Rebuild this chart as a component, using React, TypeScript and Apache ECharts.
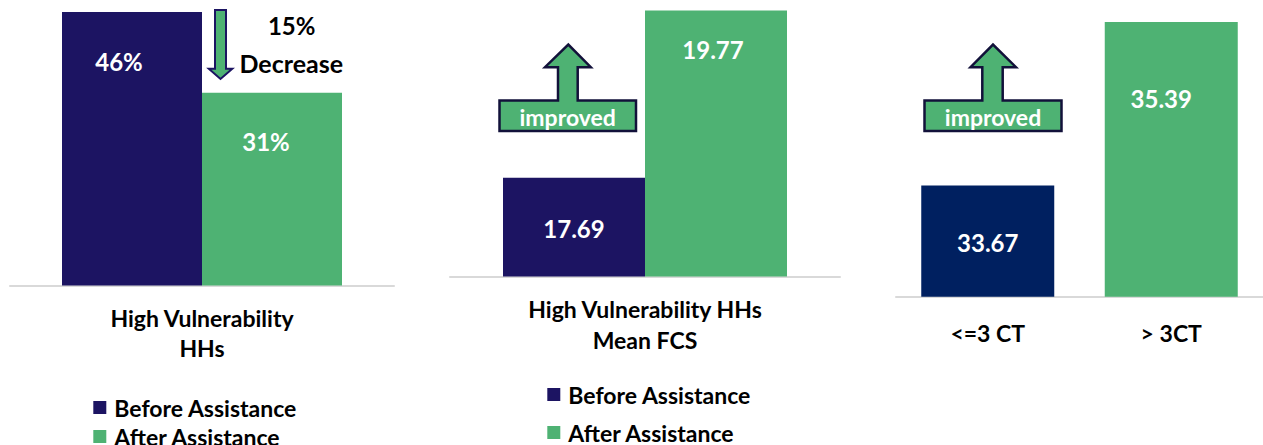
import React, { useEffect, useRef } from "react";
import * as echarts from "echarts";

const legendNames = ["Before Assistance", "After Assistance"];
const categories1 = ["High Vulnerability\nHHs"];
const before1 = [46];
const after1 = [31];
const categories2 = ["High Vulnerability HHs\nMean FCS"];
const before2 = [17.69];
const after2 = [19.77];
const categories3 = ["<=3 CT", "> 3CT"];
const values3 = [33.67, 35.39];

const NAVY = "#1C1462";
const NAVY3 = "#002060";
const GREEN = "#4EB273";
const FONT = "Lato";

const labelStyle = (dy: number, dx: number) => ({
  show: true,
  position: ["50%", dy],
  offset: [dx, 0],
  align: "center",
  verticalAlign: "middle",
  color: "#fff",
  fontFamily: FONT,
  fontWeight: "bold",
  fontSize: 24,
});

const catAxis = (gridIndex: number, data: string[], margin: number, lh: number) => ({
  type: "category",
  gridIndex,
  data,
  axisLine: { show: true, lineStyle: { color: "#D9D9D9", width: 2 } },
  axisTick: { show: false },
  axisLabel: {
    interval: 0,
    margin,
    color: "#000",
    fontFamily: FONT,
    fontWeight: "bold",
    fontSize: 23,
    lineHeight: lh,
  },
});

const valAxis = (gridIndex: number, min: number, max: number) => ({
  type: "value",
  gridIndex,
  min,
  max,
  show: false,
  splitLine: { show: false },
});

const legendItem = (name: string, left: number, top: number) => ({
  orient: "vertical",
  left,
  top,
  padding: 0,
  itemWidth: 13,
  itemHeight: 13,
  icon: "rect",
  data: [name],
  selectedMode: false,
  textStyle: {
    color: "#000",
    fontFamily: FONT,
    fontWeight: "bold",
    fontSize: 23,
    lineHeight: 24,
    padding: [0, 0, 0, 3],
  },
});

const improvedArrow = (L: number, R: number, T: number, B: number, sL: number, sR: number, hL: number, hR: number, hb: number, tx: number, ty: number) => ({
  type: "polygon",
  z: 100,
  shape: {
    points: [
      [L, B], [L, T], [sL, T], [sL, hb], [hL, hb], [tx, ty], [hR, hb], [sR, hb], [sR, T], [R, T], [R, B],
    ],
  },
  style: { fill: GREEN, stroke: "#12113A", lineWidth: 2.5 },
});

export default function App() {
  const ref = useRef<HTMLDivElement>(null);
  useEffect(() => {
    document.body.style.margin = "0";
    if (!ref.current) return;
    const chart = echarts.init(ref.current, undefined, { renderer: "svg" });
    chart.setOption({
      animation: false,
      grid: [
        { left: 10, top: 12, width: 384, height: 273.5 },
        { left: 450, top: 0, width: 390, height: 276.5 },
        { left: 896, top: 2, width: 371, height: 294.7 },
      ],
      xAxis: [
        catAxis(0, categories1, 17.8, 30),
        catAxis(1, categories2, 17.5, 30.7),
        catAxis(2, categories3, 21.3, 30),
      ],
      yAxis: [valAxis(0, 0, 44), valAxis(1, 16.46, 19.9), valAxis(2, 32.5, 35.6)],
      legend: [
        legendItem(legendNames[0], 93.3, 395.5),
        legendItem(legendNames[1], 93.3, 424.5),
        legendItem(legendNames[0], 547.3, 382.5),
        legendItem(legendNames[1], 547.3, 420.5),
      ],
      series: [
        {
          name: legendNames[0],
          type: "bar",
          xAxisIndex: 0,
          yAxisIndex: 0,
          barWidth: 140,
          barGap: "0%",
          clip: true,
          itemStyle: { color: NAVY },
          label: { ...labelStyle(49.7, -13), formatter: "{c}%" },
          data: before1,
        },
        {
          name: legendNames[1],
          type: "bar",
          xAxisIndex: 0,
          yAxisIndex: 0,
          barWidth: 140,
          barGap: "0%",
          itemStyle: { color: GREEN },
          label: { ...labelStyle(49, -6), formatter: "{c}%" },
          data: after1,
        },
        {
          name: legendNames[0],
          type: "bar",
          xAxisIndex: 1,
          yAxisIndex: 1,
          barWidth: 142,
          barGap: "0%",
          itemStyle: { color: NAVY },
          label: labelStyle(51, 0),
          data: before2,
        },
        {
          name: legendNames[1],
          type: "bar",
          xAxisIndex: 1,
          yAxisIndex: 1,
          barWidth: 142,
          barGap: "0%",
          itemStyle: { color: GREEN },
          label: labelStyle(38.8, -3),
          data: after2,
        },
        {
          name: "CT",
          type: "bar",
          xAxisIndex: 2,
          yAxisIndex: 2,
          barWidth: 133,
          data: values3.map((v, i) => ({
            value: v,
            itemStyle: { color: i === 0 ? NAVY3 : GREEN },
            label: i === 0 ? labelStyle(57.5, 0) : labelStyle(77, -10),
          })),
        },
      ],
      graphic: [
        {
          type: "polygon",
          z: 100,
          shape: {
            points: [
              [215, 10], [215, 68.8], [208.8, 68.8], [220.5, 79], [232.3, 68.8], [226, 68.8], [226, 10],
            ],
          },
          style: { fill: GREEN, stroke: NAVY, lineWidth: 2 },
        },
        {
          type: "text",
          z: 100,
          x: 291.7,
          y: 25.7,
          style: { text: "15%", fill: "#000", font: `bold 24px ${FONT}`, textAlign: "center", textVerticalAlign: "middle" },
        },
        {
          type: "text",
          z: 100,
          x: 291.3,
          y: 63.3,
          style: { text: "Decrease", fill: "#000", font: `bold 25px ${FONT}`, textAlign: "center", textVerticalAlign: "middle" },
        },
        improvedArrow(499.5, 636, 100.5, 131, 558, 577.7, 545, 590.8, 67.2, 568.3, 44.5),
        {
          type: "text",
          z: 101,
          x: 567.7,
          y: 116.5,
          style: { text: "improved", fill: "#fff", font: `bold 23px ${FONT}`, textAlign: "center", textVerticalAlign: "middle" },
        },
        improvedArrow(924.5, 1061.5, 100.5, 131, 982.3, 1002.7, 970.5, 1016, 67.2, 993, 44.5),
        {
          type: "text",
          z: 101,
          x: 993,
          y: 116.5,
          style: { text: "improved", fill: "#fff", font: `bold 23px ${FONT}`, textAlign: "center", textVerticalAlign: "middle" },
        },
      ],
    });
    return () => chart.dispose();
  }, []);
  return <div ref={ref} style={{ width: 1263, height: 445 }} />;
}
